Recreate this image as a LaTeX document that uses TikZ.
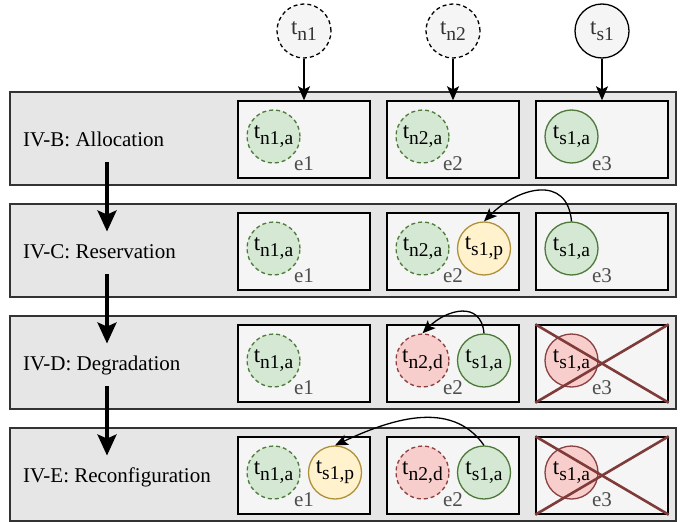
\documentclass[tikz,border=0pt]{standalone}
\usepackage{fontspec}
\setmainfont{Liberation Serif}
\usetikzlibrary{arrows.meta}

\definecolor{bandgray}{HTML}{E6E6E6}
\definecolor{boxgray}{HTML}{F5F5F5}
\definecolor{txtgray}{HTML}{333333}
\definecolor{labgray}{HTML}{4D4D4D}
\definecolor{grfill}{HTML}{D5E8D4}
\definecolor{grline}{HTML}{4D7A3A}
\definecolor{rdfill}{HTML}{F8CECC}
\definecolor{rdline}{HTML}{8B3F3F}
\definecolor{ylfill}{HTML}{FFF2CC}
\definecolor{ylline}{HTML}{B0903A}
\definecolor{crossred}{HTML}{7F3A3A}

% task name with subscript
\newcommand{\tk}[1]{{\fontsize{23}{25}\selectfont t\raisebox{-6pt}{\fontsize{19.5}{20}\selectfont #1}}}

\begin{document}
\begin{tikzpicture}[x=1pt, y=-1pt,
    font=\fontsize{21}{25}\selectfont,
    band/.style={draw=txtgray, fill=bandgray, line width=1.3pt, minimum width=666pt, minimum height=93pt, inner sep=0pt},
    ebox/.style={draw=black, fill=boxgray, line width=1.4pt, minimum width=132pt, minimum height=77pt, inner sep=0pt},
    phase/.style={anchor=base west, inner sep=0pt},
    elbl/.style={text=labgray, inner sep=0pt},
    top/.style={circle, draw=black, fill=boxgray, line width=1.3pt, minimum size=54pt, inner sep=0pt, text=txtgray},
    task/.style={circle, line width=1.3pt, minimum size=53pt, inner sep=0pt},
    act/.style={task, draw=grline, fill=grfill},
    prep/.style={task, draw=ylline, fill=ylfill},
    down/.style={task, draw=rdline, fill=rdfill},
    dsh/.style={dash pattern=on 4pt off 3pt},
    flow/.style={-{Stealth[length=14pt, width=12pt, inset=3pt]}, line width=1.3pt},
    move/.style={-{Stealth[length=13pt, width=11pt, inset=3pt]}, line width=1.3pt},
    stage/.style={-{Stealth[length=21pt, width=19pt, inset=4pt]}, line width=3.3pt},
    cross/.style={draw=crossred, line width=2.6pt}]

    \useasboundingbox (0,0) rectangle (683,522);

    % Phase bands
    \node[band] (b1) at (343,138.5) {};
    \node[band] (b2) at (343,250.5) {};
    \node[band] (b3) at (343,362.5) {};
    \node[band] (b4) at (343,474.5) {};

    \node[phase] (p1) at (23,146) {IV-B: Allocation};
    \node[phase] (p2) at (23,258) {IV-C: Reservation};
    \node[phase] (p3) at (23,370) {IV-D: Degradation};
    \node[phase] (p4) at (23,482) {IV-E: Reconfiguration};

    % Arrows between phases
    \coordinate (s1) at (107,162);   \coordinate (s2) at (107,231.5);
    \coordinate (s3) at (107,274);   \coordinate (s4) at (107,343.5);
    \coordinate (s5) at (107,386);   \coordinate (s6) at (107,455.5);
    \draw[stage] (s1) -- (s2);
    \draw[stage] (s3) -- (s4);
    \draw[stage] (s5) -- (s6);

    % Edge boxes
    \node[ebox] (r1e1) at (304,139.5) {};
    \node[ebox] (r1e2) at (453,139.5) {};
    \node[ebox] (r1e3) at (602,139.5) {};
    \node[ebox] (r2e1) at (304,251.5) {};
    \node[ebox] (r2e2) at (453,251.5) {};
    \node[ebox] (r2e3) at (602,251.5) {};
    \node[ebox] (r3e1) at (304,363.5) {};
    \node[ebox] (r3e2) at (453,363.5) {};
    \node[ebox] (r3e3) at (602,363.5) {};
    \node[ebox] (r4e1) at (304,475.5) {};
    \node[ebox] (r4e2) at (453,475.5) {};
    \node[ebox] (r4e3) at (602,475.5) {};

    % Incoming tasks
    \node[top, dsh] (tn1) at (304,31) {\tk{n1}};
    \node[top, dsh] (tn2) at (453,31) {\tk{n2}};
    \node[top] (ts1) at (602,31) {\tk{s1}};
    \draw[flow] (tn1) -- (r1e1.north);
    \draw[flow] (tn2) -- (r1e2.north);
    \draw[flow] (ts1) -- (r1e3.north);

    % Row 1: allocation
    \node[act, dsh] (r1n1a) at (273.5,136.5) {\tk{n1,a}};
    \node[act, dsh] (r1n2a) at (422.5,136.5) {\tk{n2,a}};
    \node[act] (r1s1a) at (571.5,136.5) {\tk{s1,a}};

    % Row 2: reservation
    \node[act, dsh] (r2n1a) at (273.5,248.5) {\tk{n1,a}};
    \node[act, dsh] (r2n2a) at (422.5,248.5) {\tk{n2,a}};
    \node[prep] (r2s1p) at (484,248.5) {\tk{s1,p}};
    \node[act] (r2s1a) at (571.5,248.5) {\tk{s1,a}};

    % Row 3: degradation
    \node[act, dsh] (r3n1a) at (273.5,360.5) {\tk{n1,a}};
    \node[down, dsh] (r3n2d) at (422.5,360.5) {\tk{n2,d}};
    \node[act] (r3s1a) at (484,360.5) {\tk{s1,a}};
    \node[down] (r3x) at (571.5,360.5) {\tk{s1,a}};

    % Row 4: reconfiguration
    \node[act, dsh] (r4n1a) at (273.5,472.5) {\tk{n1,a}};
    \node[prep] (r4s1p) at (335,472.5) {\tk{s1,p}};
    \node[down, dsh] (r4n2d) at (422.5,472.5) {\tk{n2,d}};
    \node[act] (r4s1a) at (484,472.5) {\tk{s1,a}};
    \node[down] (r4x) at (571.5,472.5) {\tk{s1,a}};

    % Edge names
    \node[elbl] (l11) at (304,164) {e1};
    \node[elbl] (l12) at (453,164) {e2};
    \node[elbl] (l13) at (602,164) {e3};
    \node[elbl] (l21) at (304,276) {e1};
    \node[elbl] (l22) at (453,276) {e2};
    \node[elbl] (l23) at (602,276) {e3};
    \node[elbl] (l31) at (304,388) {e1};
    \node[elbl] (l32) at (453,388) {e2};
    \node[elbl] (l33) at (602,388) {e3};
    \node[elbl] (l41) at (304,500) {e1};
    \node[elbl] (l42) at (453,500) {e2};
    \node[elbl] (l43) at (602,500) {e3};

    % Failed edge e3
    \draw[cross] (r3e3.north west) -- (r3e3.south east);
    \draw[cross] (r3e3.south west) -- (r3e3.north east);
    \draw[cross] (r4e3.north west) -- (r4e3.south east);
    \draw[cross] (r4e3.south west) -- (r4e3.north east);

    % Task moves
    \draw[move] (r2s1a.north) to[out=95, in=45, looseness=1.4] (r2s1p.north);
    \draw[move] (r3s1a.north) to[out=95, in=45, looseness=1.4] (r3n2d.north);
    \draw[move] (r4s1a.north) to[out=125, in=25, looseness=1] (r4s1p.north);

\end{tikzpicture}
\end{document}
